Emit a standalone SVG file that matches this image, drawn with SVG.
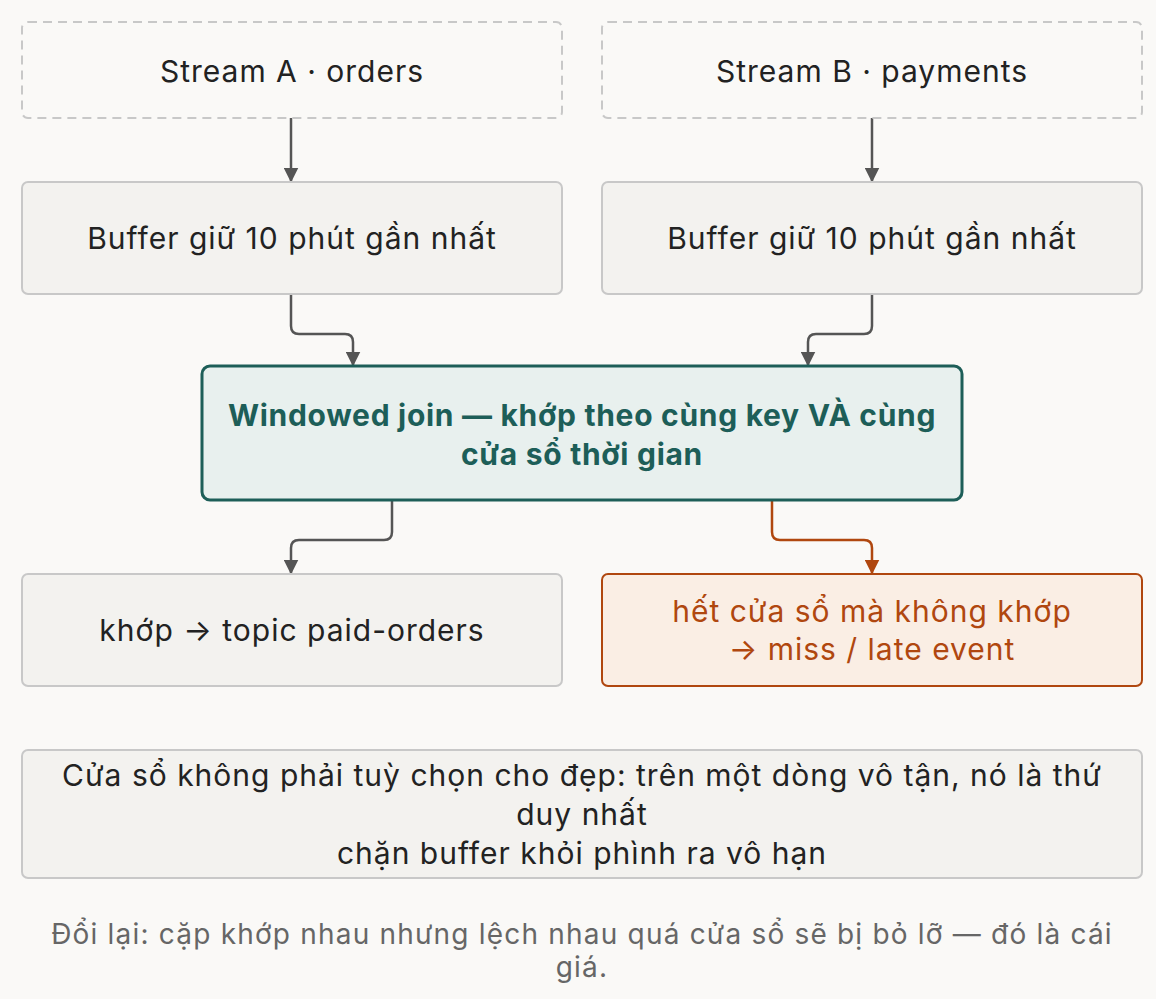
<svg xmlns="http://www.w3.org/2000/svg" width="1156" height="999" viewBox="0 0 1156 999">
<style>
text{font-family:Inter,"Open Sans",sans-serif;font-size:30px;letter-spacing:1px;fill:#222;text-anchor:middle}
.src{fill:#faf9f7;stroke:#c8c8c8;stroke-width:2;stroke-dasharray:9 6}
.box{fill:#f3f2ef;stroke:#c8c8c8;stroke-width:2}
.join{fill:#e8f0ee;stroke:#1d5e58;stroke-width:3}
.miss{fill:#faeee4;stroke:#b0470f;stroke-width:2}
.c{fill:none;stroke:#555;stroke-width:2.5}
.co{fill:none;stroke:#b0470f;stroke-width:2.5}
</style>
<defs>
<marker id="a" viewBox="0 0 10 10" refX="9" refY="5" markerWidth="6" markerHeight="6" orient="auto"><path d="M0,0L10,5L0,10z" fill="#555"/></marker>
<marker id="ao" viewBox="0 0 10 10" refX="9" refY="5" markerWidth="6" markerHeight="6" orient="auto"><path d="M0,0L10,5L0,10z" fill="#b0470f"/></marker>
</defs>
<rect width="1156" height="999" fill="#faf9f7"/>
<g id="connectors">
<path class="c" d="M291,118V181" marker-end="url(#a)"/>
<path class="c" d="M872,118V181" marker-end="url(#a)"/>
<path class="c" d="M291,294V326Q291,334 299,334H345Q353,334 353,342V365" marker-end="url(#a)"/>
<path class="c" d="M872,294V326Q872,334 864,334H816Q808,334 808,342V365" marker-end="url(#a)"/>
<path class="c" d="M392,500V532Q392,540 384,540H299Q291,540 291,548V573" marker-end="url(#a)"/>
<path class="co" d="M772,500V532Q772,540 780,540H864Q872,540 872,548V573" marker-end="url(#ao)"/>
</g>
<g id="streamA"><rect class="src" x="22" y="22" width="540" height="96" rx="6"/><text x="292" y="82">Stream A · orders</text></g>
<g id="streamB"><rect class="src" x="602" y="22" width="540" height="96" rx="6"/><text x="872" y="82">Stream B · payments</text></g>
<g id="bufA"><rect class="box" x="22" y="182" width="540" height="112" rx="6"/><text x="292" y="249">Buffer giữ 10 phút gần nhất</text></g>
<g id="bufB"><rect class="box" x="602" y="182" width="540" height="112" rx="6"/><text x="872" y="249">Buffer giữ 10 phút gần nhất</text></g>
<g id="join"><rect class="join" x="202" y="366" width="760" height="134" rx="8"/>
<text x="582" y="426" style="font-weight:bold;fill:#1d5e58;letter-spacing:0.7px">Windowed join — khớp theo cùng key VÀ cùng</text>
<text x="582" y="465" style="font-weight:bold;fill:#1d5e58;letter-spacing:0.7px">cửa sổ thời gian</text></g>
<g id="match"><rect class="box" x="22" y="574" width="540" height="112" rx="6"/><text x="292" y="641">khớp → topic paid-orders</text></g>
<g id="miss"><rect class="miss" x="602" y="574" width="540" height="112" rx="6"/>
<text x="872" y="622" style="fill:#b0470f">hết cửa sổ mà không khớp</text>
<text x="872" y="660" style="fill:#b0470f">→ miss / late event</text></g>
<g id="note"><rect class="box" x="22" y="750" width="1120" height="128" rx="6"/>
<text x="582" y="786">Cửa sổ không phải tuỳ chọn cho đẹp: trên một dòng vô tận, nó là thứ</text>
<text x="582" y="825">duy nhất</text>
<text x="582" y="864">chặn buffer khỏi phình ra vô hạn</text></g>
<g id="footer">
<text x="582" y="944" style="fill:#666;font-size:28px;letter-spacing:1.2px">Đổi lại: cặp khớp nhau nhưng lệch nhau quá cửa sổ sẽ bị bỏ lỡ — đó là cái</text>
<text x="582" y="977" style="fill:#666;font-size:28px;letter-spacing:1.2px">giá.</text></g>
</svg>
